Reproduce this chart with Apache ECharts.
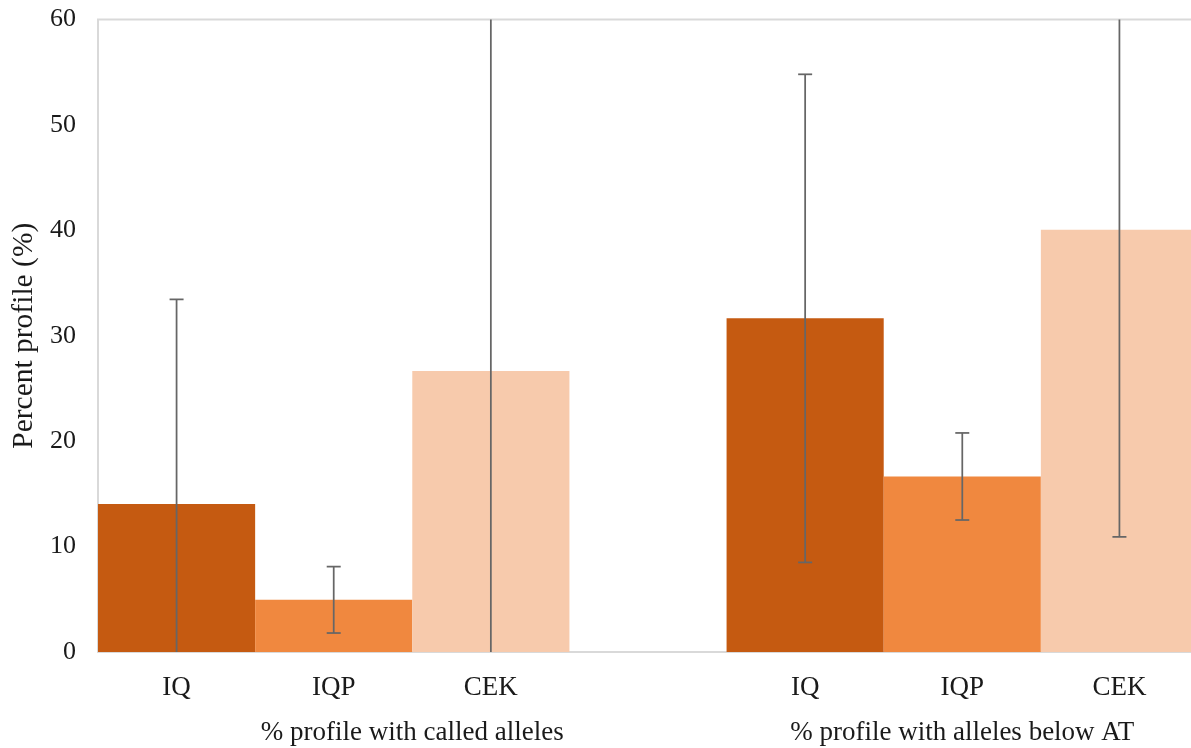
<!DOCTYPE html>
<html><head><meta charset="utf-8">
<script src="https://cdn.jsdelivr.net/npm/echarts@6/dist/echarts.min.js"></script>
<style>html,body{margin:0;padding:0;background:#fff}#c{width:1191px;height:748px}</style>
</head><body><div id="c"></div>
<script>
// ---- data ----
const groupLabels = ['% profile with called alleles', '% profile with alleles below AT'];
const subCategories = ['IQ', 'IQP', 'CEK'];
const groupMeans = [[14.05, 4.95, 26.65], [31.65, 16.65, 40.05]];
const groupErrors = [[19.4, 3.15, 37.0], [23.15, 4.13, 29.13]];
const yMin = 0, yMax = 60, yStep = 10;
const subColors = ['#C55A11', '#F0883F', '#F7CAAC'];

// ---- build slots: group 0 (3 bars), spacer, group 1 (3 bars) ----
const slots = [];
groupLabels.forEach((g, gi) => {
  if (gi > 0) slots.push({ label: '', mean: null, err: null, sub: -1 });
  subCategories.forEach((s, si) => slots.push({ label: s, mean: groupMeans[gi][si], err: groupErrors[gi][si], sub: si }));
});
// group label axis uses half-slot ticks (boundaryGap false)
const groupLabelHalfPos = [4, 11];
const halfTicks = [];
for (let i = 0; i <= slots.length * 2; i++) halfTicks.push('');
groupLabels.forEach((g, gi) => { halfTicks[groupLabelHalfPos[gi]] = g; });

const FONT = '"Liberation Serif", "Times New Roman", serif';
const TXT = '#1a1a1a';

const chart = echarts.init(document.getElementById('c'), null, { renderer: 'canvas' });
chart.setOption({
  animation: false,
  backgroundColor: '#fff',
  grid: { left: 98, top: 19.5, width: 1100, bottom: 96, show: true, borderColor: '#D9D9D9', borderWidth: 2, containLabel: false, outerBoundsMode: 'none' },
  xAxis: [{
    type: 'category',
    data: slots.map(s => s.label),
    axisLine: { show: true, lineStyle: { color: '#D9D9D9', width: 2 } },
    axisTick: { show: false },
    axisLabel: { interval: 0, margin: 22, fontFamily: FONT, fontSize: 27, color: TXT },
    splitLine: { show: false }
  }, {
    type: 'category',
    position: 'bottom',
    boundaryGap: false,
    data: halfTicks,
    gridIndex: 0,
    axisLine: { show: false },
    axisTick: { show: false },
    axisLabel: { interval: 0, margin: 67, fontFamily: FONT, fontSize: 27, color: TXT },
    splitLine: { show: false }
  }],
  yAxis: {
    type: 'value', min: yMin, max: yMax, interval: yStep,
    name: 'Percent profile (%)', nameLocation: 'middle', nameRotate: 90, nameGap: 58,
    nameTextStyle: { fontFamily: FONT, fontSize: 29.5, color: TXT },
    axisLine: { show: false }, axisTick: { show: false },
    axisLabel: { margin: 22, fontFamily: FONT, fontSize: 26, color: TXT },
    splitLine: { show: false }
  },
  series: [{
    type: 'bar',
    xAxisIndex: 0,
    barWidth: '100%',
    barCategoryGap: '0%',
    data: slots.map(s => s.mean === null ? '-' : { value: s.mean, itemStyle: { color: subColors[s.sub] } })
  }, {
    type: 'custom',
    xAxisIndex: 0,
    z: 5,
    data: slots.map((s, i) => s.mean === null ? null : [i, s.mean - s.err, s.mean + s.err]).filter(d => d),
    renderItem: function (params, api) {
      const x = api.value(0), lo = api.value(1), hi = api.value(2);
      const cLo = Math.max(lo, yMin), cHi = Math.min(hi, yMax);
      const pLo = api.coord([x, cLo]), pHi = api.coord([x, cHi]);
      const style = { stroke: '#666666', lineWidth: 1.75 };
      const half = 7;
      const children = [{ type: 'line', shape: { x1: pLo[0], y1: pLo[1], x2: pHi[0], y2: pHi[1] }, style: style }];
      if (hi <= yMax) children.push({ type: 'line', shape: { x1: pHi[0] - half, y1: pHi[1], x2: pHi[0] + half, y2: pHi[1] }, style: style });
      if (lo >= yMin) children.push({ type: 'line', shape: { x1: pLo[0] - half, y1: pLo[1], x2: pLo[0] + half, y2: pLo[1] }, style: style });
      return { type: 'group', children: children };
    }
  }]
});
</script>
</body></html>
